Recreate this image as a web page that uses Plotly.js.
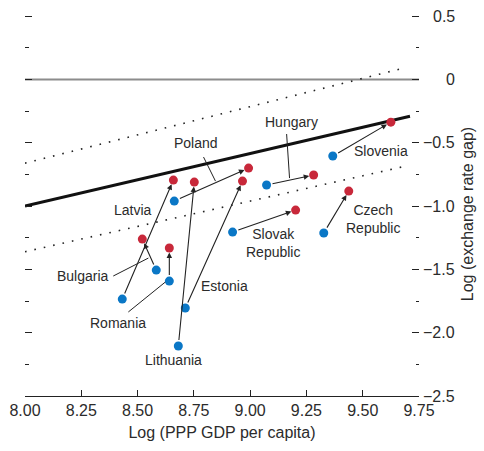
<!DOCTYPE html>
<html>
<head>
<meta charset="utf-8">
<script src="https://cdn.plot.ly/plotly-3.0.1.min.js"></script>
<style>
  html, body { margin: 0; padding: 0; background: #fff; }
  #chart { width: 484px; height: 451px; }
</style>
</head>
<body>
<div id="chart"></div>
<script>
// Countries and their start (blue) and end (red) positions
const countries = ["Slovenia", "Hungary", "Poland", "Latvia", "Lithuania", "Estonia",
                   "Romania", "Bulgaria", "Slovak Republic", "Czech Republic"];
const startGdp = [9.367, 9.073, 8.663, 8.432, 8.681, 8.712, 8.641, 8.583, 8.922, 9.327];
const startGap = [-0.604, -0.833, -0.960, -1.734, -2.105, -1.805, -1.592, -1.505, -1.205, -1.212];
const endGdp   = [9.625, 9.282, 8.993, 8.659, 8.752, 8.966, 8.641, 8.521, 9.202, 9.438];
const endGap   = [-0.336, -0.754, -0.699, -0.794, -0.810, -0.802, -1.331, -1.260, -1.031, -0.881];

// Fitted line and its band
const fitX = [8.0, 9.71];
const fitY = [-1.0, -0.29];
const upperX = [8.0, 9.68];
const upperY = [-0.66, 0.09];
const lowerX = [8.0, 9.70];
const lowerY = [-1.36, -0.68];

// Axis ticks
const xTickVals = [8.0, 8.25, 8.5, 8.75, 9.0, 9.25, 9.5, 9.75];
const yTickVals = [0.5, 0, -0.5, -1.0, -1.5, -2.0, -2.5];
const yTickText = ["0.5", "0", "\u22120.5", "\u22121.0", "\u22121.5", "\u22122.0", "\u22122.5"];

const FONT = "'Liberation Sans', Arial, sans-serif";
const TXT = "#2b2b2b";
const BLUE = "#0a77c6";
const RED = "#c8283a";

const traces = [
  { x: upperX, y: upperY, mode: "lines", line: { color: "#222", width: 1.6, dash: "1.6px,8px" }, hoverinfo: "skip" },
  { x: lowerX, y: lowerY, mode: "lines", line: { color: "#222", width: 1.6, dash: "1.6px,8px" }, hoverinfo: "skip" },
  { x: fitX, y: fitY, mode: "lines", line: { color: "#111", width: 3 }, hoverinfo: "skip" },
  { x: startGdp, y: startGap, mode: "markers", marker: { color: BLUE, size: 9 }, text: countries },
  { x: endGdp, y: endGap, mode: "markers", marker: { color: RED, size: 9 }, text: countries },
  // carries the left-hand mirrored tick marks
  { x: [8.0], y: [0], yaxis: "y2", mode: "markers", marker: { opacity: 0 }, hoverinfo: "skip" }
];

const annotations = [];

// Movement arrows, blue -> red
countries.forEach((c, i) => {
  annotations.push({
    x: endGdp[i], y: endGap[i], ax: startGdp[i], ay: startGap[i],
    xref: "x", yref: "y", axref: "x", ayref: "y",
    text: "", showarrow: true, arrowhead: 2, arrowsize: 1, arrowwidth: 1.1,
    arrowcolor: "#222", standoff: 4.5, startstandoff: 4.5
  });
});

// Country labels
const labelPos = {
  "Poland": [8.761, -0.502],
  "Hungary": [9.184, -0.336],
  "Slovenia": [9.581, -0.565],
  "Czech Republic": [9.545, -1.10],
  "Slovak Republic": [9.10, -1.29],
  "Latvia": [8.481, -1.031],
  "Bulgaria": [8.258, -1.552],
  "Romania": [8.414, -1.923],
  "Estonia": [8.886, -1.631],
  "Lithuania": [8.659, -2.216]
};
countries.forEach(c => {
  const p = labelPos[c];
  annotations.push({
    x: p[0], y: p[1], xref: "x", yref: "y", showarrow: false,
    text: c.replace(" ", "<br>"), font: { family: FONT, size: 14, color: TXT },
    align: "center"
  });
});

// Leader lines from labels to their arrows
const leaders = [
  [8.793, -0.612, 8.846, -0.802],
  [9.162, -0.430, 9.175, -0.778],
  [8.392, -1.552, 8.548, -1.410],
  [8.459, -1.836, 8.623, -1.600]
];
const shapes = leaders.map(l => ({
  type: "line", xref: "x", yref: "y", x0: l[0], y0: l[1], x1: l[2], y1: l[3],
  line: { color: "#222", width: 1 }
}));
// Zero reference line
shapes.push({
  type: "line", xref: "paper", yref: "y", x0: 0, x1: 1, y0: 0, y1: 0,
  line: { color: "#8c8c8c", width: 2 }, layer: "below"
});

// Right-hand tick labels, right aligned
yTickVals.forEach((v, i) => {
  annotations.push({
    x: 1.096, y: v, xref: "paper", yref: "y", xanchor: "right", yanchor: "middle",
    showarrow: false, text: yTickText[i], font: { family: FONT, size: 16, color: TXT }
  });
});

// Right-hand axis title
annotations.push({
  x: 1.15, y: 0.47, xref: "paper", yref: "paper", showarrow: false, textangle: -90,
  text: "Log (exchange rate gap)", font: { family: FONT, size: 16, color: TXT }
});

const yCommon = {
  range: [-2.5, 0.55],
  tickvals: yTickVals,
  ticks: "inside", ticklen: 7, tickwidth: 1, tickcolor: "#222",
  showticklabels: false,
  showgrid: false, showline: false, zeroline: false,
  minor: { dtick: 0.25, ticks: "inside", ticklen: 3.5, tickcolor: "#222", tickwidth: 1, showgrid: false }
};

const layout = {
  width: 484, height: 451,
  margin: { l: 25, r: 65, t: 10, b: 55 },
  paper_bgcolor: "#fff", plot_bgcolor: "#fff",
  showlegend: false,
  font: { family: FONT, size: 16, color: TXT },
  xaxis: {
    range: [8.0, 9.75],
    tickvals: xTickVals, tickformat: ".2f",
    ticks: "inside", ticklen: 6, tickcolor: "#222", tickwidth: 1,
    showline: true, linecolor: "#222", linewidth: 1,
    showgrid: false, zeroline: false,
    tickfont: { family: FONT, size: 16, color: TXT },
    title: { text: "Log (PPP GDP per capita)", font: { family: FONT, size: 16, color: TXT }, standoff: 8 }
  },
  yaxis: Object.assign({}, yCommon, { side: "right" }),
  yaxis2: Object.assign({}, yCommon, { side: "left", overlaying: "y", matches: "y" }),
  annotations: annotations,
  shapes: shapes
};

Plotly.newPlot("chart", traces, layout, { displayModeBar: false, staticPlot: true });
</script>
</body>
</html>
